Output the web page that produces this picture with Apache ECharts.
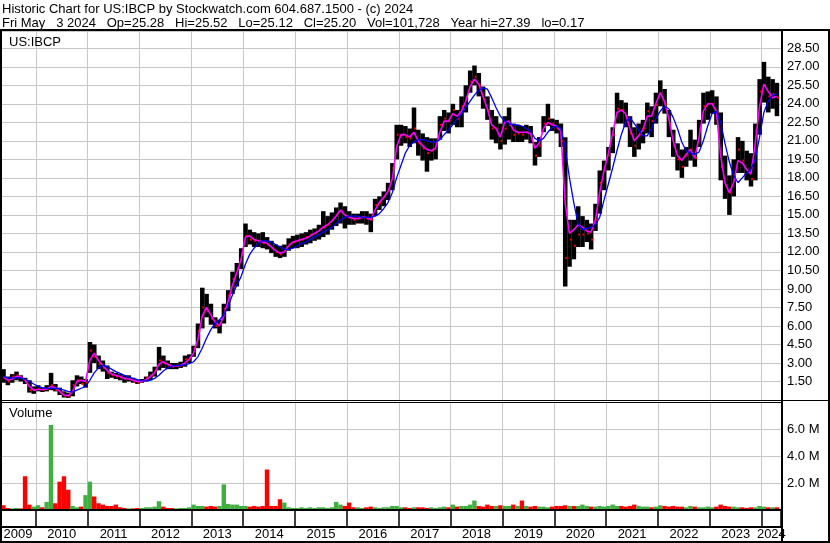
<!DOCTYPE html>
<html>
<head>
<meta charset="utf-8">
<title>US:IBCP historic chart</title>
<script src="https://cdn.jsdelivr.net/npm/echarts/dist/echarts.min.js"></script>
<style>
    html, body { margin: 0; padding: 0; background: #fff; }
    #chart { width: 830px; height: 543px; }
</style>
</head>
<body>
<div id="chart"></div>
<script>
    // monthly bars, May 2009 .. Apr 2024 (one row per year)
    const firstYear = 2009;
    const firstMonth = 5;

    const hi = [
        2.5, 1.9, 2.1, 2.3, 2.0, 1.8, 1.6, 1.1,
        1.2, 1.0, 1.2, 2.2, 1.3, 1.0, 0.7, 0.6, 1.6, 2.0, 1.9, 1.7,
        4.7, 4.5, 3.6, 3.2, 2.8, 2.3, 2.2, 2.1, 2.0, 2.0, 1.8, 1.6,
        1.7, 1.9, 2.3, 2.7, 4.3, 3.6, 3.2, 3.0, 3.0, 3.1, 3.6, 3.7,
        4.4, 6.2, 9.1, 8.6, 7.8, 6.7, 6.5, 7.8, 8.9, 10.4, 11.1, 12.3,
        14.3, 13.8, 13.6, 13.5, 13.6, 13.2, 12.9, 12.6, 12.5, 12.6, 13.1, 13.3,
        13.4, 13.5, 13.6, 13.8, 13.9, 14.2, 15.3, 14.9, 15.2, 15.6, 16.0, 15.7,
        15.3, 15.1, 15.1, 15.3, 15.3, 15.1, 16.3, 16.5, 16.9, 17.6, 19.2, 22.3,
        22.3, 22.2, 22.0, 23.7, 21.9, 21.6, 21.3, 21.2, 21.2, 23.0, 23.5, 23.3,
        24.0, 23.5, 24.6, 25.5, 26.7, 27.1, 26.5, 25.4, 24.6, 23.5, 23.0, 22.4,
        23.0, 23.7, 22.4, 22.3, 22.2, 22.3, 22.2, 20.9, 21.3, 23.0, 24.0, 22.8,
        22.7, 22.4, 21.3, 14.6, 14.6, 15.7, 14.9, 14.6, 14.3, 15.9, 18.6, 19.4,
        20.5, 22.1, 24.9, 24.3, 24.1, 23.0, 22.1, 22.4, 22.7, 24.1, 23.8, 24.9,
        25.9, 25.2, 23.5, 21.9, 20.8, 20.3, 20.5, 21.9, 21.1, 22.7, 24.9, 25.0,
        25.1, 24.6, 23.3, 19.8, 18.2, 19.5, 21.3, 21.0, 20.2, 20.0, 22.4, 26.0,
        27.4, 26.2, 26.0, 25.7
    ];
    const lo = [
        1.4, 1.2, 1.4, 1.6, 1.5, 1.3, 0.6, 0.5,
        0.7, 0.65, 0.7, 0.8, 0.7, 0.4, 0.2, 0.17, 0.3, 1.1, 1.3, 1.0,
        2.2, 3.0, 2.5, 2.3, 1.7, 1.8, 1.7, 1.6, 1.4, 1.5, 1.4, 1.3,
        1.4, 1.5, 1.6, 1.9, 2.4, 2.6, 2.5, 2.5, 2.5, 2.6, 2.7, 3.0,
        3.5, 4.2, 5.8, 6.7, 6.1, 5.8, 5.4, 6.2, 7.2, 8.6, 9.2, 10.6,
        12.4, 12.6, 12.4, 12.4, 12.3, 12.2, 11.9, 11.6, 11.5, 11.6, 12.1, 12.3,
        12.3, 12.4, 12.6, 12.7, 12.9, 13.0, 13.2, 13.4, 13.8, 14.1, 14.3, 13.9,
        14.2, 14.2, 14.3, 14.3, 14.2, 13.6, 14.9, 15.4, 15.7, 16.2, 17.0, 19.5,
        20.6, 20.8, 20.5, 20.8, 19.8, 19.4, 18.5, 19.4, 19.5, 21.1, 21.8, 21.6,
        22.3, 22.1, 22.1, 23.3, 24.9, 25.5, 24.6, 23.6, 22.7, 21.1, 20.8, 20.3,
        20.7, 21.1, 20.9, 20.9, 20.9, 21.1, 20.8, 19.0, 19.7, 21.7, 22.2, 21.8,
        21.6, 20.5, 9.2, 10.8, 11.4, 12.4, 12.4, 12.8, 12.2, 13.7, 15.1, 17.0,
        18.6, 20.0, 22.4, 22.4, 22.1, 20.5, 19.7, 20.3, 20.8, 21.6, 21.3, 22.4,
        23.8, 23.2, 21.3, 19.7, 18.6, 18.0, 18.9, 19.4, 18.9, 20.5, 22.4, 22.7,
        23.2, 22.3, 17.8, 16.3, 15.0, 16.5, 18.4, 18.4, 17.8, 17.3, 17.8, 21.5,
        24.1, 23.3, 23.6, 23.0
    ];
    const cl = [
        1.8, 1.5, 1.9, 2.0, 1.8, 1.5, 0.8, 0.8,
        0.9, 0.8, 0.9, 1.2, 0.8, 0.6, 0.35, 0.3, 1.2, 1.6, 1.3, 1.4,
        4.0, 3.5, 2.9, 2.6, 2.2, 2.0, 1.9, 1.8, 1.7, 1.7, 1.5, 1.4,
        1.5, 1.8, 2.0, 2.4, 3.2, 3.0, 2.8, 2.7, 2.8, 2.8, 3.3, 3.4,
        4.2, 5.6, 7.5, 7.2, 6.6, 6.0, 6.2, 7.4, 8.5, 9.8, 10.6, 11.8,
        13.3, 13.0, 12.9, 12.8, 12.7, 12.6, 12.3, 12.0, 11.8, 12.2, 12.6, 12.8,
        12.9, 13.0, 13.2, 13.4, 13.5, 13.8, 14.0, 14.2, 14.6, 15.0, 15.3, 14.9,
        14.8, 14.6, 14.7, 14.8, 14.7, 14.6, 15.8, 16.0, 16.5, 17.0, 18.8, 21.5,
        21.5, 21.3, 21.2, 22.0, 20.8, 20.4, 20.0, 20.2, 20.8, 22.3, 22.8, 22.6,
        23.5, 22.8, 23.8, 24.5, 25.8, 26.2, 25.5, 24.4, 23.5, 22.0, 22.0, 21.0,
        22.0, 22.3, 21.5, 21.6, 21.5, 21.7, 21.5, 19.8, 20.6, 22.4, 22.8, 22.4,
        22.0, 21.0, 11.5, 13.0, 12.5, 13.4, 13.4, 13.5, 13.0, 14.6, 17.6, 18.6,
        19.8, 21.5, 23.6, 23.5, 23.0, 21.6, 20.6, 21.5, 22.0, 23.4, 22.6, 23.9,
        24.8, 24.0, 22.4, 20.6, 19.5, 18.9, 19.8, 20.3, 19.6, 22.0, 23.8, 24.0,
        24.0, 23.3, 18.9, 17.4, 16.8, 18.0, 20.3, 19.4, 18.6, 17.9, 21.8, 25.0,
        25.5, 24.6, 24.8, 24.5
    ];
    // short average (magenta)
    const maFast = [
        1.9, 1.6, 1.7, 1.9, 1.9, 1.6, 1.1, 0.8,
        0.85, 0.85, 0.9, 1.1, 1.0, 0.7, 0.4, 0.35, 0.7, 1.5, 1.6, 1.5,
        3.2, 3.8, 3.2, 2.8, 2.4, 2.1, 2.0, 1.9, 1.75, 1.7, 1.6, 1.5,
        1.5, 1.65, 1.9, 2.2, 2.9, 3.1, 2.9, 2.75, 2.75, 2.8, 3.0, 3.3,
        3.8, 4.9, 6.8, 7.5, 6.9, 6.3, 6.0, 6.8, 8.0, 9.3, 10.3, 11.4,
        13.2, 13.3, 13.0, 12.9, 12.8, 12.7, 12.4, 12.1, 11.9, 12.0, 12.5, 12.8,
        12.9, 13.0, 13.1, 13.3, 13.5, 13.7, 14.0, 14.2, 14.5, 14.9, 15.4, 15.0,
        14.8, 14.7, 14.7, 14.8, 14.8, 14.6, 15.4, 16.0, 16.4, 16.9, 17.9, 20.5,
        21.5, 21.5, 21.3, 21.7, 21.0, 20.6, 20.3, 20.2, 20.4, 21.7, 22.6, 22.6,
        23.2, 23.0, 23.4, 24.2, 25.4, 26.0, 25.6, 24.6, 23.6, 22.3, 22.0, 21.3,
        22.5, 22.6, 21.9, 21.7, 21.7, 21.7, 21.6, 20.4, 20.8, 22.0, 22.5, 22.3,
        22.2, 21.8, 16.0, 13.5, 13.8, 14.2, 14.0, 13.7, 13.6, 14.6, 16.8, 18.6,
        20.0, 21.6, 23.3, 23.5, 23.2, 22.0, 21.0, 21.4, 21.9, 23.0, 23.0, 24.0,
        24.9, 24.2, 22.8, 21.0, 19.8, 19.4, 19.9, 20.3, 19.6, 21.3, 23.4, 24.0,
        24.0, 23.4, 19.8, 17.6, 16.8, 17.6, 19.4, 19.2, 18.7, 18.3, 20.8, 23.8,
        25.6, 25.0, 24.5, 24.6
    ];
    // long average (blue)
    const maSlow = [
        1.9, 1.8, 1.8, 1.8, 1.8, 1.7, 1.5, 1.3,
        1.1, 1.0, 0.95, 0.95, 0.95, 0.9, 0.8, 0.7, 0.65, 0.8, 0.95, 1.1,
        1.6, 2.2, 2.6, 2.8, 2.7, 2.5, 2.3, 2.15, 2.0, 1.85, 1.75, 1.65,
        1.55, 1.55, 1.6, 1.75, 2.0, 2.35, 2.6, 2.75, 2.8, 2.8, 2.85, 2.95,
        3.1, 3.5, 4.2, 5.0, 5.7, 6.2, 6.5, 6.9, 7.6, 8.5, 9.3, 10.0,
        11.0, 11.8, 12.3, 12.7, 12.9, 12.9, 12.8, 12.6, 12.4, 12.2, 12.2, 12.3,
        12.5, 12.7, 12.8, 13.0, 13.2, 13.4, 13.6, 13.8, 14.0, 14.3, 14.6, 14.8,
        14.9, 14.9, 14.9, 14.8, 14.8, 14.8, 14.9, 15.1, 15.5, 16.0, 16.8, 18.0,
        19.0, 20.0, 20.6, 20.9, 21.1, 21.1, 21.0, 20.9, 20.9, 21.1, 21.5, 21.9,
        22.3, 22.8, 23.2, 23.7, 24.2, 24.7, 25.1, 25.3, 25.2, 24.5, 23.7, 23.0,
        22.6, 22.4, 22.3, 22.3, 22.2, 22.0, 21.8, 21.2, 21.0, 21.2, 21.7, 22.1,
        22.2, 22.0, 20.5, 18.0, 16.0, 14.3, 13.8, 13.9, 14.0, 14.2, 14.8, 16.2,
        17.5, 18.8, 20.2, 21.5, 22.5, 22.9, 22.4, 21.9, 21.4, 21.4, 22.0, 22.8,
        23.4, 23.8, 23.6, 22.9, 22.0, 20.9, 20.2, 20.0, 19.9, 20.1, 21.0, 22.2,
        23.2, 23.4, 22.5, 20.8, 19.3, 18.2, 17.6, 18.0, 18.4, 18.7, 19.5, 21.3,
        23.3, 24.2, 24.7, 24.8
    ];
    // volume, millions of shares
    const vol = [
        0.35, 0.15, 0.12, 0.15, 0.12, 2.5, 0.4, 0.25,
        0.35, 0.2, 0.6, 6.3, 0.5, 2.1, 2.5, 1.5, 0.3, 0.2, 0.25, 1.1,
        2.1, 1.0, 0.5, 0.4, 0.3, 0.3, 0.4, 0.2, 0.15, 0.12, 0.12, 0.15,
        0.15, 0.2, 0.2, 0.25, 0.65, 0.25, 0.15, 0.15, 0.12, 0.15, 0.15, 0.2,
        0.4, 0.3, 0.3, 0.25, 0.3, 0.25, 0.3, 1.9, 0.45, 0.4, 0.4, 0.3,
        0.3, 0.25, 0.3, 0.25, 0.3, 3.0, 0.3, 0.3, 0.8, 0.55, 0.2, 0.15,
        0.15, 0.2, 0.15, 0.2, 0.15, 0.2, 0.2, 0.15, 0.2, 0.6, 0.4, 0.3,
        0.55, 0.2, 0.2, 0.15, 0.2, 0.25, 0.2, 0.15, 0.2, 0.2, 0.3, 0.3,
        0.2, 0.2, 0.15, 0.2, 0.2, 0.2, 0.15, 0.2, 0.15, 0.2, 0.25, 0.2,
        0.4, 0.25, 0.3, 0.3, 0.4, 0.7, 0.3, 0.25, 0.4, 0.3, 0.3, 0.35,
        0.3, 0.3, 0.4, 0.3, 0.7, 0.3, 0.25, 0.3, 0.25, 0.25, 0.2, 0.25,
        0.3, 0.3, 0.35, 0.3, 0.3, 0.3, 0.4, 0.3, 0.25, 0.25, 0.3, 0.25,
        0.3, 0.4, 0.3, 0.3, 0.25, 0.3, 0.4, 0.3, 0.25, 0.25, 0.2, 0.25,
        0.35, 0.3, 0.25, 0.3, 0.25, 0.25, 0.2, 0.3, 0.25, 0.2, 0.2, 0.25,
        0.2, 0.25, 0.4, 0.3, 0.25, 0.25, 0.2, 0.2, 0.15, 0.2, 0.2, 0.3,
        0.25, 0.2, 0.2, 0.2
    ];
    const yearLabels = ['2009', '2010', '2011', '2012', '2013', '2014', '2015', '2016',
        '2017', '2018', '2019', '2020', '2021', '2022', '2023', '2024'];
    const priceTicks = [1.5, 28.5];   // first and last labelled price
    const volTicks = [2, 6];          // first and last labelled volume (M)

    const X_MIN = 2009, X_MAX = 2024.372;
    const GRID_LEFT = -16, GRID_RIGHT = 49;
    const GRAY = '#c8c8c8';
    const FONT = "'Liberation Sans', Arial, sans-serif";

    let monthX = cl.map((v, i) => firstYear + (firstMonth - 1 + i + 0.5) / 12);

    // year labels sit in the middle of the visible part of each year
    let pxPerYear = (830 - GRID_LEFT - GRID_RIGHT) / (X_MAX - X_MIN);
    let visLeft = X_MIN - GRID_LEFT / pxPerYear;
    let labelPos = yearLabels.map(y => {
        let a = Math.max(+y, visLeft), b = Math.min(+y + 1, X_MAX);
        return (a + b) / 2;
    });

    function renderPriceBar(params, api) {
        let x = api.value(0);
        let top = api.coord([x, api.value(2)]);
        let bottom = api.coord([x, api.value(1)]);
        let close = api.coord([x, api.value(3)]);
        let w = api.size([1 / 12, 0])[0];
        return {
            type: 'group',
            children: [
                {
                    type: 'rect',
                    shape: { x: top[0] - w / 2, y: top[1], width: w + 0.2, height: Math.max(bottom[1] - top[1], 1) },
                    style: { fill: '#000' }
                },
                {
                    type: 'rect',
                    shape: { x: close[0] + w / 2 - 2, y: close[1] - 1, width: 2, height: 2 },
                    style: { fill: '#ff0000' }
                }
            ]
        };
    }

    let chart = echarts.init(document.getElementById('chart'), null, { renderer: 'canvas' });

    let labelStyle = { fontSize: 13, fontWeight: 'normal', color: '#000', fontFamily: FONT, lineHeight: 14 };
    let gridBase = { left: GRID_LEFT, right: GRID_RIGHT, outerBoundsMode: 'none', containLabel: false };

    let option = {
        animation: false,
        backgroundColor: '#fff',
        textStyle: { fontFamily: FONT },
        title: [
            {
                text: 'Historic Chart for US:IBCP by Stockwatch.com 604.687.1500 - (c) 2024',
                subtext: 'Fri May   3 2024   Op=25.28   Hi=25.52   Lo=25.12   Cl=25.20   Vol=101,728   Year hi=27.39   lo=0.17',
                left: 2, top: 2, padding: 0, itemGap: 0,
                textStyle: labelStyle,
                subtextStyle: labelStyle
            },
            { text: 'US:IBCP', left: 9, top: 35, padding: 0, textStyle: labelStyle },
            { text: 'Volume', left: 9, top: 406, padding: 0, textStyle: labelStyle }
        ],
        grid: [
            Object.assign({ top: 31, height: 369 }, gridBase),
            Object.assign({ top: 402, height: 108 }, gridBase),
            Object.assign({ top: 527, height: 15 }, gridBase)
        ],
        xAxis: [
            {
                gridIndex: 0, type: 'value', min: X_MIN, max: X_MAX, interval: 1,
                axisLine: { show: false }, axisTick: { show: false }, axisLabel: { show: false },
                splitLine: { show: true, lineStyle: { color: GRAY, width: 1 } }
            },
            {
                gridIndex: 1, type: 'value', min: X_MIN, max: X_MAX, interval: 1,
                axisLine: { show: false }, axisLabel: { show: false },
                axisTick: { show: true, inside: false, length: 17, lineStyle: { color: '#000', width: 1.5 } },
                splitLine: { show: true, lineStyle: { color: GRAY, width: 1 } }
            },
            {
                gridIndex: 2, type: 'value', min: X_MIN, max: X_MAX, position: 'top',
                axisLine: { show: false }, axisTick: { show: false }, splitLine: { show: false },
                axisLabel: {
                    show: true, inside: true, margin: 1, customValues: labelPos,
                    fontSize: 13, color: '#000', fontFamily: FONT,
                    formatter: v => String(Math.floor(v))
                }
            }
        ],
        yAxis: [
            {
                gridIndex: 0, type: 'value', position: 'right', min: 0, max: 29.9, interval: 1.5,
                axisLine: { show: false }, axisTick: { show: false },
                splitLine: { show: true, lineStyle: { color: GRAY, width: 1 } },
                axisLabel: {
                    margin: 6, fontSize: 13, color: '#000', fontFamily: FONT,
                    formatter: v => (v >= priceTicks[0] && v <= priceTicks[1]) ? v.toFixed(2) : ''
                }
            },
            {
                gridIndex: 1, type: 'value', position: 'right', min: 0, max: 8, interval: 2,
                axisLine: { show: false }, axisTick: { show: false },
                splitLine: { show: true, lineStyle: { color: GRAY, width: 1 } },
                axisLabel: {
                    margin: 6, fontSize: 13, color: '#000', fontFamily: FONT,
                    formatter: v => (v >= volTicks[0] && v <= volTicks[1]) ? v.toFixed(1) + ' M' : ''
                }
            },
            {
                gridIndex: 2, type: 'value', show: false, min: 0, max: 1
            }
        ],
        series: [
            {
                name: 'price', type: 'custom', xAxisIndex: 0, yAxisIndex: 0, clip: true,
                renderItem: renderPriceBar,
                encode: { x: 0, y: [1, 2, 3] },
                data: monthX.map((x, i) => [x, lo[i], hi[i], cl[i]]),
                z: 2
            },
            {
                name: 'short avg', type: 'line', xAxisIndex: 0, yAxisIndex: 0,
                showSymbol: false, symbol: 'none',
                lineStyle: { color: '#ff00ff', width: 1.6 },
                data: monthX.map((x, i) => [x, maFast[i]]),
                z: 3
            },
            {
                name: 'long avg', type: 'line', xAxisIndex: 0, yAxisIndex: 0,
                showSymbol: false, symbol: 'none',
                lineStyle: { color: '#0000ff', width: 1.3 },
                data: monthX.map((x, i) => [x, maSlow[i]]),
                z: 4
            },
            {
                name: 'volume', type: 'bar', xAxisIndex: 1, yAxisIndex: 1,
                barWidth: 4.4,
                itemStyle: {
                    color: p => (p.dataIndex > 0 && cl[p.dataIndex] >= cl[p.dataIndex - 1]) ? '#3fb040' : '#ff0000'
                },
                data: monthX.map((x, i) => [x, vol[i]])
            }
        ],
        graphic: [
            { type: 'rect', z: 100, shape: { x: 1, y: 30, width: 828, height: 512 }, style: { fill: null, stroke: '#000', lineWidth: 2 } },
            { type: 'line', z: 100, shape: { x1: 782, y1: 30, x2: 782, y2: 542 }, style: { stroke: '#000', lineWidth: 2 } },
            { type: 'line', z: 100, shape: { x1: 0, y1: 400.5, x2: 830, y2: 400.5 }, style: { stroke: '#000', lineWidth: 1 } },
            { type: 'line', z: 100, shape: { x1: 0, y1: 402.5, x2: 782, y2: 402.5 }, style: { stroke: '#000', lineWidth: 1 } },
            { type: 'line', z: 100, shape: { x1: 0, y1: 510, x2: 782, y2: 510 }, style: { stroke: '#000', lineWidth: 2 } },
            { type: 'line', z: 100, shape: { x1: 0, y1: 527, x2: 782, y2: 527 }, style: { stroke: '#000', lineWidth: 2 } }
        ]
    };

    chart.setOption(option);
</script>
</body>
</html>
